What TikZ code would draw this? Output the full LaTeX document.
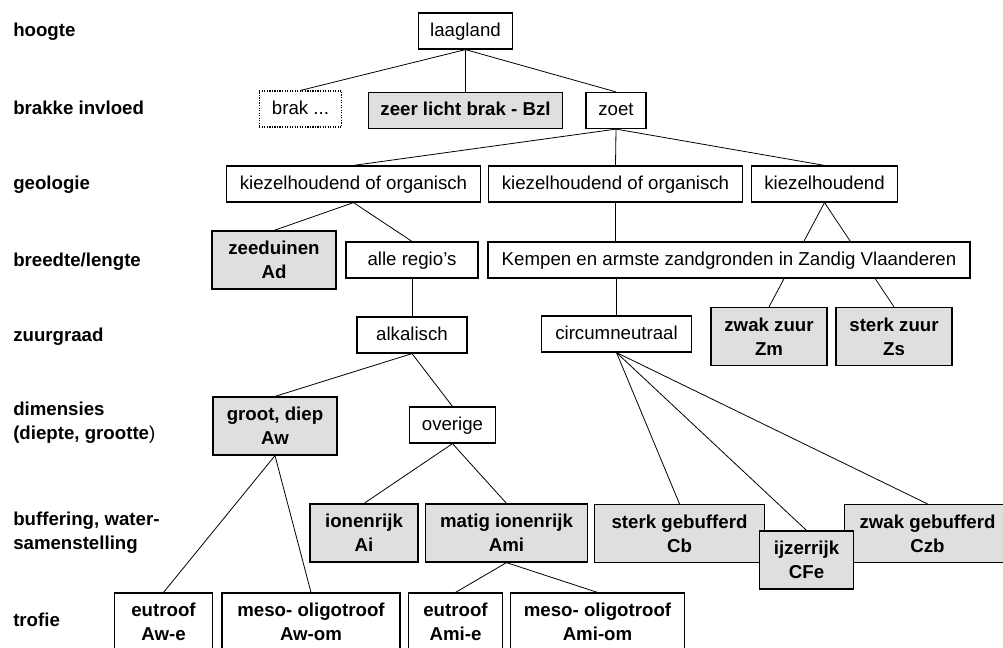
\documentclass[tikz,border=0pt]{standalone}
\usepackage{fontspec}
\setmainfont{Liberation Sans}
\usetikzlibrary{backgrounds}

\begin{document}
\begin{tikzpicture}[x=0.75pt, y=-0.75pt,
  base/.style={draw, line width=0.9pt, fill=white, inner sep=2pt, font=\fontsize{14}{18}\selectfont, align=center},
  box/.style={base, minimum height=27pt, text height=10.5pt, text depth=3pt},
  typebox/.style={box, fill=gray!25, font=\fontsize{14}{18}\selectfont\bfseries},
  bigbox/.style={base, minimum height=43.5pt, fill=gray!25, font=\fontsize{14}{18}\selectfont\bfseries},
  trofbox/.style={base, minimum height=43.5pt, font=\fontsize{14}{18}\selectfont\bfseries},
  level/.style={anchor=west, inner sep=0pt, font=\fontsize{14}{18}\selectfont\bfseries, align=left},
  edge/.style={line width=0.6pt},
]

\useasboundingbox (0,0) rectangle (1003,647);
\clip (0,0) rectangle (1003,647);

% Criteria (left column)
\node[level] (l_hoogte) at (13,32) {hoogte};
\node[level] (l_brak) at (13,108) {brakke invloed};
\node[level] (l_geo) at (13,185) {geologie};
\node[level] (l_breedte) at (13,262) {breedte/lengte};
\node[level] (l_zuur) at (13,337) {zuurgraad};
\node[level] (l_dim) at (13,423) {dimensies\\(diepte, grootte\textmd{)}};
\node[level] (l_buf) at (13,533) {buffering, water-\\samenstelling};
\node[level] (l_trof) at (13,620) {trofie};

% Hoogte and brakke invloed
\node[box, minimum width=71pt] (laagland) at (465.5,31) {laagland};
\node[box, densely dotted, minimum width=62pt] (brak) at (300.5,109) {brak ...};
\node[typebox, minimum width=146pt] (bzl) at (465.5,110.5) {zeer licht brak - Bzl};
\node[box, minimum width=45pt] (zoet) at (616,110.5) {zoet};

% Geologie
\node[box, minimum width=190pt] (geo_ko1) at (353.5,184) {kiezelhoudend of organisch};
\node[box, minimum width=190pt] (geo_ko2) at (615.5,184) {kiezelhoudend of organisch};
\node[box, minimum width=110pt] (geo_k) at (824.5,184) {kiezelhoudend};

% Breedte/lengte
\node[bigbox, minimum width=93pt] (ad) at (274,260) {zeeduinen\\Ad};
\node[box, minimum width=99pt] (regios) at (412,260) {alle regio's};
\node[box, minimum width=361.5pt] (kempen) at (729,260) {Kempen en armste zandgronden in Zandig Vlaanderen};

% Zuurgraad
\node[box, minimum width=82.5pt] (alk) at (412,335) {alkalisch};
\node[box, minimum width=113pt] (circ) at (616.5,334) {circumneutraal};
\node[bigbox, minimum width=87pt] (zm) at (769,336.5) {zwak zuur\\Zm};
\node[bigbox, minimum width=87pt] (zs) at (894,336.5) {sterk zuur\\Zs};

% Dimensies
\node[bigbox, minimum width=93pt] (aw) at (275,426) {groot, diep\\Aw};
\node[box, minimum width=65pt] (overige) at (452.5,425) {overige};

% Buffering
\node[bigbox, minimum width=81pt] (ai) at (364,533) {ionenrijk\\Ai};
\node[bigbox, minimum width=121pt] (ami) at (506.5,533) {matig ionenrijk\\Ami};
\node[bigbox, minimum width=127pt] (cb) at (679.5,533.5) {sterk gebufferd\\Cb};
\node[bigbox, minimum width=124pt] (czb) at (927.5,533.5) {zwak gebufferd\\Czb};
\node[bigbox, minimum width=71pt] (cfe) at (806.5,560) {ijzerrijk\\CFe};

% Trofie
\node[trofbox, minimum width=73pt] (awe) at (163.5,622) {eutroof\\Aw-e};
\node[trofbox, minimum width=133.5pt] (awom) at (311,622) {meso- oligotroof\\Aw-om};
\node[trofbox, minimum width=71pt] (amie) at (455.5,622) {eutroof\\Ami-e};
\node[trofbox, minimum width=130pt] (amiom) at (597.5,622) {meso- oligotroof\\Ami-om};

% Connectors (behind the boxes)
\begin{pgfonlayer}{background}
\draw[edge] (laagland.south) -- (brak.north);
\draw[edge] (laagland.south) -- (bzl.north);
\draw[edge] (laagland.south) -- (zoet.north);
\draw[edge] (zoet.south) -- (geo_ko1.north);
\draw[edge] (zoet.south) -- (geo_ko2.north);
\draw[edge] (zoet.south) -- (geo_k.north);
\draw[edge] (geo_ko1.south) -- (ad.north);
\draw[edge] (geo_ko1.south) -- (regios.north);
\draw[edge] (geo_ko2.south) -- (geo_ko2.south |- kempen.north);
\draw[edge] (geo_k.south) -- (zm.north);
\draw[edge] (geo_k.south) -- (zs.north);
\draw[edge] (regios.south) -- (alk.north);
\draw[edge] (kempen.south -| circ.north) -- (circ.north);
\draw[edge] (alk.south) -- (aw.north);
\draw[edge] (alk.south) -- (overige.north);
\draw[edge] (overige.south) -- (ai.north);
\draw[edge] (overige.south) -- (ami.north);
\draw[edge] (circ.south) -- (cb.north);
\draw[edge] (circ.south) -- (cfe.north);
\draw[edge] (circ.south) -- (czb.north);
\draw[edge] (aw.south) -- (awe.north);
\draw[edge] (aw.south) -- (awom.north);
\draw[edge] (ami.south) -- (amie.north);
\draw[edge] (ami.south) -- (amiom.north);
\end{pgfonlayer}

\end{tikzpicture}
\end{document}
